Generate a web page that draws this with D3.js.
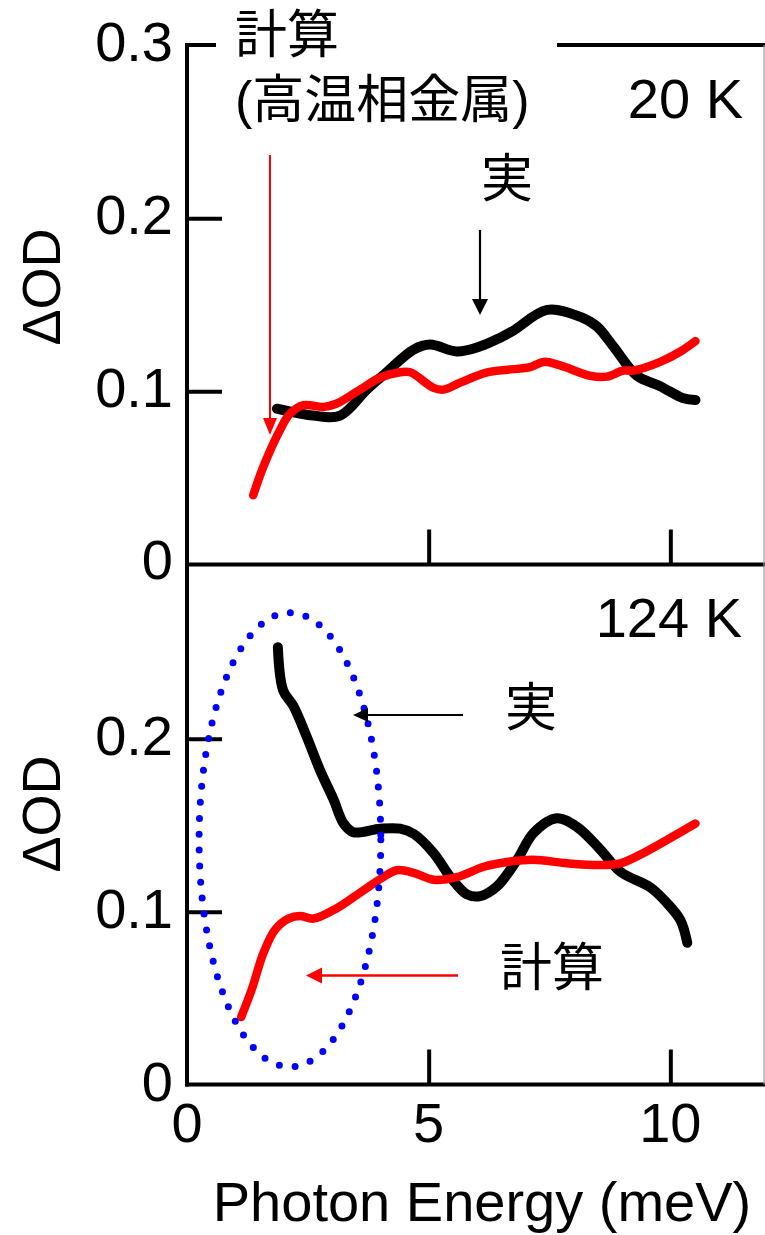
<!DOCTYPE html>
<html>
<head>
<meta charset="utf-8">
<script src="https://cdn.jsdelivr.net/npm/d3@7"></script>
<style>
  html, body { margin: 0; padding: 0; background: #fff; }
  svg { display: block; }
  text { font-family: "Liberation Sans", Arial, "Noto Sans CJK JP", sans-serif; fill: #000; }
</style>
</head>
<body>
<svg id="chart" width="765" height="1235"></svg>
<script>
// Photon energy (meV) and ΔOD for each panel
const top20Exp_E   = [1.86, 2.61, 3.17, 3.72, 4.13, 4.68, 5.03, 5.58, 6.07, 6.48, 6.75, 7.45, 8.14, 8.48, 8.82, 9.31, 9.79, 10.27, 10.52];
const top20Exp_OD  = [0.090, 0.086, 0.086, 0.101, 0.111, 0.124, 0.127, 0.123, 0.126, 0.131, 0.135, 0.147, 0.143, 0.1375, 0.126, 0.109, 0.103, 0.096, 0.095];

const top20Calc_E  = [1.37, 1.58, 1.93, 2.13, 2.41, 2.82, 3.10, 3.58, 4.00, 4.41, 4.62, 5.10, 5.31, 5.65, 6.21, 7.10, 7.38, 7.72, 8.34, 8.69, 9.03, 9.24, 9.79, 10.21, 10.52];
const top20Calc_OD = [0.040, 0.0565, 0.078, 0.087, 0.092, 0.091, 0.093, 0.101, 0.108, 0.111, 0.111, 0.102, 0.101, 0.105, 0.111, 0.114, 0.117, 0.115, 0.109, 0.1085, 0.112, 0.112, 0.117, 0.123, 0.129];

const bot124Exp_E  = [1.88, 1.99, 2.20, 2.48, 2.75, 3.03, 3.24, 3.44, 4.00, 4.41, 4.69, 5.10, 5.45, 5.79, 6.07, 6.41, 6.83, 7.17, 7.65, 8.07, 8.55, 8.97, 9.59, 9.93, 10.21, 10.35];
const bot124Exp_OD = [0.253, 0.228, 0.219, 0.201, 0.182, 0.165, 0.151, 0.146, 0.148, 0.148, 0.145, 0.134, 0.120, 0.110, 0.109, 0.1145, 0.130, 0.1455, 0.154, 0.149, 0.136, 0.123, 0.114, 0.105, 0.095, 0.082];

const bot124Calc_E  = [1.12, 1.34, 1.58, 1.82, 2.10, 2.34, 2.62, 3.10, 3.58, 4.06, 4.34, 4.69, 5.10, 5.58, 6.14, 6.69, 7.17, 7.86, 8.55, 8.97, 9.38, 9.93, 10.52];
const bot124Calc_OD = [0.039, 0.055, 0.076, 0.0895, 0.096, 0.0975, 0.096, 0.102, 0.111, 0.120, 0.124, 0.1225, 0.1185, 0.120, 0.126, 0.129, 0.130, 0.128, 0.127, 0.128, 0.133, 0.1415, 0.151];

const xTicks = [0, 5, 10];
const yTicks = [0, 0.1, 0.2, 0.3];
const panelTemps = ["20 K", "124 K"];

const svg = d3.select("#chart");
const FONT = 56;

const x = d3.scaleLinear().domain([0, 12]).range([187, 767]);
const yTop = d3.scaleLinear().domain([0, 0.3]).range([564.5, 45]);
const yBot = d3.scaleLinear().domain([0, 0.3]).range([1084.5, 566]);

const zip = (a, b) => a.map((v, i) => [v, b[i]]);

// ---- frame lines ----
const frame = svg.append("g").attr("stroke", "#000").attr("stroke-width", 4).attr("fill", "none");
// left axis spanning both panels
frame.append("line").attr("x1", x(0)).attr("x2", x(0)).attr("y1", yTop(0.3)).attr("y2", yBot(0) + 2);
// top border, broken by the heading text
frame.append("line").attr("x1", x(0) - 2).attr("x2", 216).attr("y1", yTop(0.3)).attr("y2", yTop(0.3));
frame.append("line").attr("x1", 557).attr("x2", 765).attr("y1", yTop(0.3)).attr("y2", yTop(0.3));
// shared middle axis and bottom axis
frame.append("line").attr("x1", x(0) - 2).attr("x2", 765).attr("y1", yTop(0)).attr("y2", yTop(0));
frame.append("line").attr("x1", x(0) - 2).attr("x2", 765).attr("y1", yBot(0)).attr("y2", yBot(0));
// thin right border
svg.append("line").attr("x1", 764).attr("x2", 764).attr("y1", yTop(0.3)).attr("y2", yBot(0))
  .attr("stroke", "#999").attr("stroke-width", 1.2);

// ---- axes via d3 axis generators (inward ticks) ----
function yAxis(scale, ticks) {
  const g = svg.append("g").attr("transform", `translate(${x(0)},0)`)
    .call(d3.axisRight(scale).tickValues(ticks).tickSize(35).tickFormat(""));
  g.select(".domain").remove();
  g.selectAll(".tick line").attr("stroke", "#000").attr("stroke-width", 4);
  // labels placed left of the axis
  svg.append("g").selectAll("text").data(ticks).join("text")
    .attr("x", 173).attr("y", d => scale(d) + 16)
    .attr("text-anchor", "end").attr("font-size", FONT)
    .text(d => d === 0 ? "0" : d3.format(".1f")(d));
}
yAxis(yTop, [0.1, 0.2]);
yAxis(yBot, [0.1, 0.2]);
// 0.3 belongs to the top panel only; each panel has its own 0
svg.append("text").attr("x", 173).attr("y", yTop(0.3) + 16).attr("text-anchor", "end").attr("font-size", FONT).text("0.3");
svg.append("text").attr("x", 173).attr("y", yTop(0) + 14).attr("text-anchor", "end").attr("font-size", FONT).text("0");
svg.append("text").attr("x", 173).attr("y", yBot(0) + 16).attr("text-anchor", "end").attr("font-size", FONT).text("0");

function xAxis(yPos) {
  const g = svg.append("g").attr("transform", `translate(0,${yPos})`)
    .call(d3.axisTop(x).tickValues([5, 10]).tickSize(35).tickFormat(""));
  g.select(".domain").remove();
  g.selectAll(".tick line").attr("stroke", "#000").attr("stroke-width", 4);
}
xAxis(yTop(0));
xAxis(yBot(0));

svg.append("g").selectAll("text").data(xTicks).join("text")
  .attr("x", d => x(d)).attr("y", 1142)
  .attr("text-anchor", "middle").attr("font-size", FONT)
  .text(d => d);

svg.append("text").attr("x", 482).attr("y", 1221).attr("text-anchor", "middle")
  .attr("font-size", FONT).text("Photon Energy (meV)");

// y-axis titles
[287, 814].forEach(cy => {
  svg.append("text").attr("transform", `translate(60,${cy}) rotate(-90)`)
    .attr("text-anchor", "middle").attr("font-size", 54).text("ΔOD");
});

// panel temperatures
svg.append("text").attr("x", 743).attr("y", 118).attr("text-anchor", "end").attr("font-size", FONT).text(panelTemps[0]);
svg.append("text").attr("x", 742).attr("y", 637).attr("text-anchor", "end").attr("font-size", FONT).text(panelTemps[1]);

// ---- curves ----
const lineTop = d3.line().x(d => x(d[0])).y(d => yTop(d[1])).curve(d3.curveCatmullRom.alpha(0.5));
const lineBot = d3.line().x(d => x(d[0])).y(d => yBot(d[1])).curve(d3.curveCatmullRom.alpha(0.5));

function drawCurve(gen, data, color, w) {
  svg.append("path").datum(data).attr("d", gen)
    .attr("fill", "none").attr("stroke", color).attr("stroke-width", w)
    .attr("stroke-linecap", "round").attr("stroke-linejoin", "round");
}
drawCurve(lineTop, zip(top20Exp_E, top20Exp_OD), "#000", 10);
drawCurve(lineTop, zip(top20Calc_E, top20Calc_OD), "#ff0000", 8.5);
drawCurve(lineBot, zip(bot124Exp_E, bot124Exp_OD), "#000", 10);
drawCurve(lineBot, zip(bot124Calc_E, bot124Calc_OD), "#ff0000", 8.5);

// ---- dotted ellipse around the low-energy region at 124 K ----
const ex = x(2.13), ey = yBot(0.1416);
const erx = x(2.13 + 1.88) - ex, ery = ey - yBot(0.1416 + 0.1314);
svg.append("ellipse").attr("cx", ex).attr("cy", ey).attr("rx", erx).attr("ry", ery)
  .attr("fill", "none").attr("stroke", "#0000ff").attr("stroke-width", 7)
  .attr("stroke-linecap", "round").attr("stroke-dasharray", "0 16");

// ---- annotation arrows ----
function arrow(x1, y1, x2, y2, color, w, headLen, headHalf) {
  const ang = Math.atan2(y2 - y1, x2 - x1);
  const bx = x2 - headLen * Math.cos(ang), by = y2 - headLen * Math.sin(ang);
  svg.append("line").attr("x1", x1).attr("y1", y1).attr("x2", bx).attr("y2", by)
    .attr("stroke", color).attr("stroke-width", w);
  const px = -Math.sin(ang) * headHalf, py = Math.cos(ang) * headHalf;
  svg.append("path")
    .attr("d", `M${x2},${y2}L${bx + px},${by + py}L${bx - px},${by - py}Z`)
    .attr("fill", color);
}
arrow(270, 155, 270, 435, "#ff0000", 2, 17, 7);
arrow(480, 230, 480, 315, "#000", 2.2, 16, 8);
arrow(463, 715, 353, 715, "#000", 2.2, 15, 7);
arrow(458, 975.5, 306, 975.5, "#ff0000", 2.5, 16, 8);

// ---- annotation texts ----
const CJK = 52;
svg.append("text").attr("x", 235).attr("y", 53).attr("font-size", CJK).text("計算");
svg.append("text").attr("x", 235).attr("y", 118).attr("font-size", CJK).text("(高温相金属)");
svg.append("text").attr("x", 507).attr("y", 197).attr("text-anchor", "middle").attr("font-size", CJK).text("実");
svg.append("text").attr("x", 531).attr("y", 726).attr("text-anchor", "middle").attr("font-size", CJK).text("実");
svg.append("text").attr("x", 552).attr("y", 986).attr("text-anchor", "middle").attr("font-size", CJK).text("計算");
</script>
</body>
</html>
